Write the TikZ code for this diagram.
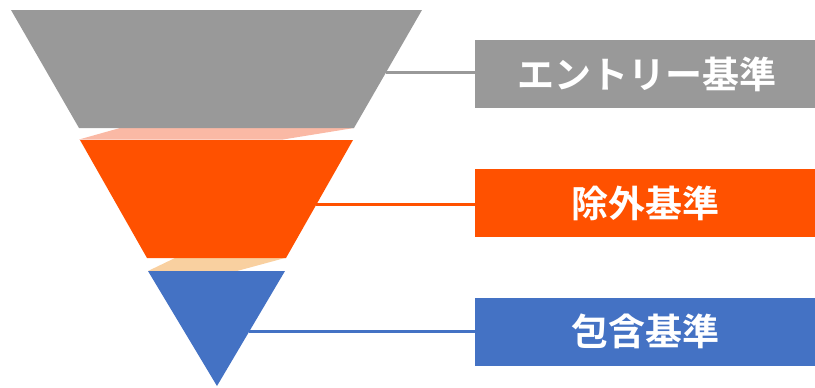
\documentclass[tikz,border=0pt]{standalone}
\usepackage{fontspec}
\newfontfamily\cjk{Noto Sans CJK JP Bold}
\definecolor{fgray}{HTML}{999999}
\definecolor{forange}{HTML}{FF5100}
\definecolor{fblue}{HTML}{4472C4}
\definecolor{fpink}{HTML}{FAB9A5}
\definecolor{fpeach}{HTML}{F9D0A0}
\begin{document}
\begin{tikzpicture}[x=1pt,y=-1pt,
  label box/.style={minimum width=340pt,minimum height=68pt,inner sep=0pt,
    text=white,font=\cjk\fontsize{37}{42}\selectfont,anchor=west},
  link/.style={line width=3pt}]
\useasboundingbox (0,0) rectangle (815,388);
% connecting bands
\fill[fpink] (120,128) -- (354,128) -- (283,139.5) -- (79,139.5) -- cycle;
\fill[fpeach] (175,258) -- (285,258) -- (237,271) -- (148,271) -- cycle;
% funnel levels
\fill[fgray] (11,10) -- (422,10) -- (354,128) -- (79,128) -- cycle;
\fill[forange] (80,140) -- (353,140) -- (286,258) -- (147,258) -- cycle;
\fill[fblue] (148,271) -- (285,271) -- (217,386) -- cycle;
% connector start points
\coordinate (g) at (386,72);
\coordinate (o) at (316,204);
\coordinate (b) at (249,331);
% label boxes
\node[label box,fill=fgray] (entry) at (475,74) {\kern3pt エントリー基準};
\node[label box,fill=forange] (excl) at (475,203) {除外基準};
\node[label box,fill=fblue] (incl) at (475,331.5) {包含基準};
% connectors
\draw[link,fgray] (g) -- (g -| entry.west);
\draw[link,forange] (o) -- (o -| excl.west);
\draw[link,fblue] (b) -- (b -| incl.west);
\end{tikzpicture}
\end{document}
